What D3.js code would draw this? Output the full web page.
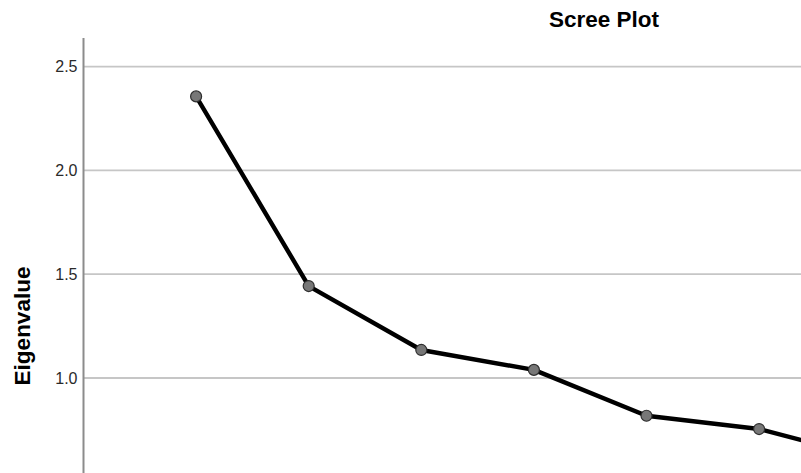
<!DOCTYPE html>
<html>
<head>
<meta charset="utf-8">
<script src="https://cdn.jsdelivr.net/npm/d3@7"></script>
<style>
  html, body { margin: 0; padding: 0; background: #fff; overflow: hidden; }
  svg { display: block; font-family: "Liberation Sans", Arial, sans-serif; }
</style>
</head>
<body>
<svg id="chart" width="801" height="473"></svg>
<script>
// Scree plot: eigenvalue per extracted component
const components = [1, 2, 3, 4, 5, 6, 7];
const eigenvalues = [2.357, 1.443, 1.135, 1.039, 0.818, 0.754, 0.612];
const yTicks = [1.0, 1.5, 2.0, 2.5];
const titleText = "Scree Plot";
const yLabelText = "Eigenvalue";

const svg = d3.select("#chart");

// Plot frame: the axis sits on the left, the frame runs past the right and bottom edges
const axisX = 83.5;
const step = 112.6;
const x = d3.scaleLinear().domain([0, 1]).range([axisX, axisX + step]);
const y = d3.scaleLinear().domain([0, 2.5]).range([585.5, 66.7]);
const plotTop = 38;
const plotBottom = 600;
const plotRight = 1200;

// Horizontal gridlines
svg.append("g")
  .selectAll("line")
  .data(yTicks)
  .join("line")
  .attr("x1", axisX)
  .attr("x2", plotRight)
  .attr("y1", d => y(d))
  .attr("y2", d => y(d))
  .attr("stroke", "#c6c6c6")
  .attr("stroke-width", 1.8);

// Y axis with tick labels
const yAxis = d3.axisLeft(y)
  .tickValues(yTicks)
  .tickFormat(d3.format(".1f"))
  .tickSize(0)
  .tickPadding(6);

const gy = svg.append("g")
  .attr("transform", `translate(${axisX},0)`)
  .call(yAxis);
gy.select(".domain").remove();
gy.selectAll("text")
  .attr("font-size", 16)
  .attr("fill", "#2a2a2a")
  .attr("font-family", "\"Liberation Sans\", Arial, sans-serif");

svg.append("line")
  .attr("x1", axisX).attr("x2", axisX)
  .attr("y1", plotTop).attr("y2", plotBottom)
  .attr("stroke", "#8c8c8c")
  .attr("stroke-width", 2);

// Eigenvalue line
const pts = components.map((c, i) => ({ c, v: eigenvalues[i] }));
const line = d3.line().x(d => x(d.c)).y(d => y(d.v));

svg.append("path")
  .datum(pts)
  .attr("d", line)
  .attr("fill", "none")
  .attr("stroke", "#000")
  .attr("stroke-width", 4.4)
  .attr("stroke-linejoin", "round")
  .attr("stroke-linecap", "round");

svg.append("g")
  .selectAll("circle")
  .data(pts)
  .join("circle")
  .attr("cx", d => x(d.c))
  .attr("cy", d => y(d.v))
  .attr("r", 5.5)
  .attr("fill", "#777")
  .attr("stroke", "#2e2e2e")
  .attr("stroke-width", 1.2);

// Title
svg.append("text")
  .attr("x", 604)
  .attr("y", 27)
  .attr("text-anchor", "middle")
  .attr("font-size", 22.5)
  .attr("font-weight", "bold")
  .attr("fill", "#000")
  .text(titleText);

// Y axis title
svg.append("text")
  .attr("transform", "translate(30,326) rotate(-90)")
  .attr("text-anchor", "middle")
  .attr("font-size", 22.5)
  .attr("font-weight", "bold")
  .attr("fill", "#000")
  .text(yLabelText);
</script>
</body>
</html>
